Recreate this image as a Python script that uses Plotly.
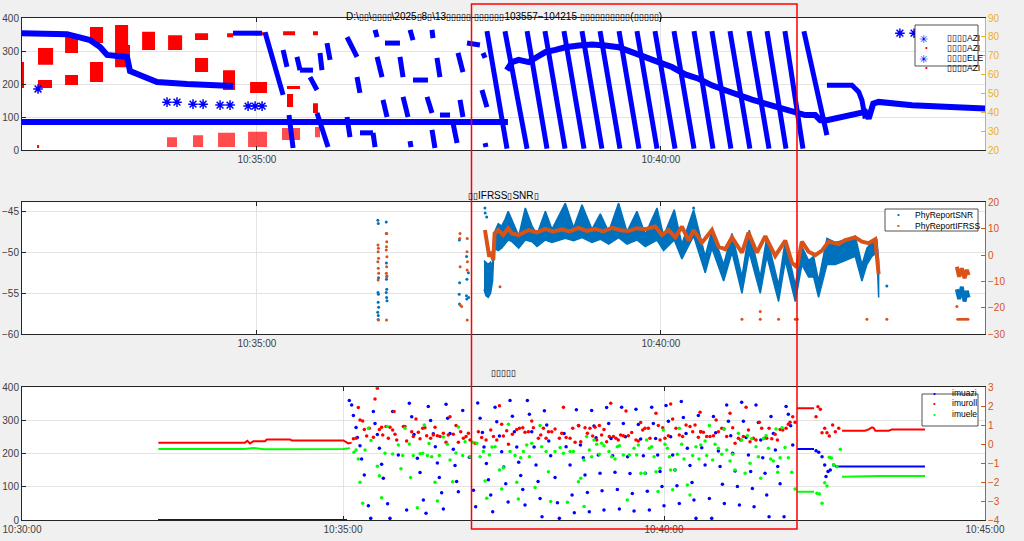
import pandas as pd
import plotly.graph_objects as go

T0 = pd.Timestamp("2025-08-13 10:30:00")

# ---------------- top panel (seconds after 10:30:00) ----------------
azi_band_t = [125.5, 486.4]
azi_band_v = [85, 85]

azi_path_t = [125.5, 159.0, 176.0, 183.5, 188.7, 203.5, 205.7, 215.4, 225.8, 248.0, 263.0, 282.2]
azi_path_v = [354, 351, 333, 312, 288, 282, 239, 221, 206, 200, 197, 194]

seg_t0 = [282.2, 306.0, 323.8, 319.4, 329.7, 332.0, 339.4, 344.6, 346.8, 352.0,
          366.9, 366.9, 374.3, 376.5, 386.2, 387.7, 389.2, 393.6, 395.1, 406.2,
          408.5, 413.7, 413.7, 415.9, 426.3, 430.0, 430.0, 433.7, 435.9, 445.6,
          449.3, 450.8, 456.0, 467.1, 467.9, 469.4,
          470.8, 484.2, 500.6, 513.9, 528.0, 541.4, 554.8, 568.9, 582.2, 595.6,
          609.7, 624.6, 637.9, 651.3, 665.4, 678.8, 692.1, 706.2]
seg_v0 = [354, 357, 106, 303, 282, 242, 221, 112, 294, 324,
          342, 100, 221, 52, 52, 364, 282, 152, 324, 282,
          161, 364, 27, 212, 161, 364, 61, 279, 106, 82,
          294, 152, 324, 182, 294, 21,
          360, 360, 360, 360, 360, 360, 360, 360, 360, 360,
          360, 360, 360, 360, 360, 360, 360, 360]
seg_t1 = [303.8, 319.4, 326.8, 322.3, 332.0, 341.6, 344.6, 352.8, 348.3, 354.3,
          374.3, 369.1, 376.5, 386.2, 387.7, 389.2, 392.9, 396.6, 406.2, 408.5,
          412.2, 415.9, 414.4, 427.0, 430.0, 430.7, 432.2, 435.9, 443.4, 448.6,
          453.0, 453.0, 465.6, 470.8, 469.4, 470.1,
          485.7, 500.6, 515.4, 528.8, 542.9, 556.2, 569.6, 583.7, 597.1, 610.5,
          624.6, 638.7, 652.0, 666.1, 680.3, 692.9, 705.5, 723.3]
seg_v1 = [354, 167, 6, 252, 242, 242, 182, 9, 242, 273,
          282, 39, 173, 52, 9, 342, 221, 100, 324, 221,
          100, 333, 9, 212, 112, 339, 6, 221, 106, 21,
          236, 100, 318, 130, 279, 9,
          4, 4, 4, 4, 4, 4, 4, 4, 4, 4,
          4, 4, 4, 4, 4, 4, 4, 45]

azi_pts_t = [137.4, 233.2, 240.6, 252.5, 260.0, 272.6, 280.0, 293.4, 298.6, 303.8, 777.5, 788.0]
azi_pts_v = [185, 145, 145, 139, 139, 136, 136, 133, 133, 133, 354, 354]

red_t0 = [125.5, 137.4, 137.4, 157.5, 157.5, 176.0, 176.0, 194.6, 194.6, 214.7,
          234.0, 254.0, 254.0, 274.8, 277.8, 294.9, 297.1, 319.4, 322.3, 322.3,
          341.6, 341.6, 136.7]
red_t1 = [127.0, 147.8, 148.6, 167.1, 167.1, 185.7, 185.7, 204.3, 205.7, 224.3,
          244.4, 263.7, 263.7, 283.7, 282.2, 307.5, 306.0, 328.3, 332.0, 326.8,
          345.3, 345.3, 138.2]
red_hi = [267, 212, 309, 348, 227, 373, 267, 379, 318, 358,
          348, 354, 279, 242, 354, 206, 357, 360, 194, 170,
          360, 142, 15]
red_lo = [188, 188, 258, 294, 197, 324, 206, 318, 251, 303,
          303, 333, 236, 182, 342, 173, 348, 348, 185, 130,
          348, 112, 6]

red_sp_t0 = [233.2, 252.5, 271.1, 293.4, 318.6, 343.1]
red_sp_t1 = [240.6, 260.0, 283.7, 307.5, 332.0, 346.8]
red_sp_hi = [39, 45, 52, 55, 67, 70]
red_sp_lo = [9, 9, 9, 9, 30, 39]

ele_curve_t = [485.5, 489.4, 494.4, 501.8, 508.0, 514.2, 521.6, 529.0, 539.0, 548.8,
               558.7, 568.6, 578.5, 588.4, 598.3, 608.2, 618.1, 628.0, 637.9, 647.8,
               657.8, 667.6, 677.5, 687.5, 697.3, 702.3, 707.2, 714.6, 718.4, 723.3,
               737.0, 746.9, 751.8, 754.3, 757.7, 761.7, 774.0, 786.5, 811.2, 831.0, 840.9]
ele_curve_v = [62.4, 66.6, 67.8, 66.6, 69.3, 71.9, 73.1, 74.5, 75.4, 75.9,
               75.4, 74.5, 71.9, 68.9, 66.6, 64.0, 60.1, 57.8, 54.3, 51.7,
               49.0, 46.7, 44.6, 42.5, 40.2, 39.3, 38.5, 38.5, 35.8, 35.8,
               37.6, 39.3, 40.2, 36.7, 44.6, 45.5, 44.3, 43.7, 42.9, 42.5, 42.0]
ele_step_t = [723.3, 741.9, 746.9, 749.3, 751.8]
ele_step_v = [54.3, 54.3, 50.8, 46.4, 36.7]

# ---------------- middle panel ----------------
snr_t = [468.6, 470.1, 471.8, 473.5, 475.0, 476.0, 479.2, 481.7, 484.2, 486.6,
         489.4, 494.4, 499.3, 504.3, 508.0, 514.2, 519.1, 529.0, 535.2, 541.4,
         548.8, 555.0, 561.2, 568.6, 574.8, 582.2, 588.4, 597.1, 602.0, 609.9,
         615.6, 624.3, 632.9, 637.9, 646.6, 652.8, 660.2, 665.6, 673.8, 678.7,
         687.4, 692.4, 699.8, 704.7, 709.7, 713.4, 717.1, 723.3, 729.5, 736.9,
         744.3, 749.3, 753.0, 756.7, 760.4, 761.7]
snr_hi = [-51.0, -51.3, -51.5, -51.2, -51.7, -47.7, -46.5, -46.8, -46.0, -45.0,
          -46.0, -48.0, -44.6, -46.8, -47.8, -45.0, -47.2, -44.0, -47.0, -44.2,
          -47.2, -45.3, -47.5, -44.0, -47.5, -45.0, -47.8, -44.6, -48.0, -44.8,
          -49.0, -44.8, -50.5, -47.3, -51.5, -47.7, -53.0, -47.3, -53.0, -48.1,
          -54.0, -48.5, -54.0, -49.3, -51.0, -50.5, -53.5, -48.3, -48.8, -48.5,
          -48.0, -51.5, -49.5, -48.8, -48.5, -51.0]
snr_lo = [-54.5, -55.3, -55.5, -55.0, -53.5, -49.5, -49.8, -49.5, -49.0, -48.5,
          -48.7, -49.5, -48.5, -48.7, -49.3, -48.5, -48.8, -48.3, -48.6, -48.2,
          -48.8, -48.4, -49.0, -48.2, -49.0, -48.5, -49.3, -48.5, -49.8, -48.5,
          -50.8, -48.0, -52.5, -49.5, -53.5, -50.0, -55.0, -50.0, -55.0, -50.5,
          -56.0, -51.0, -56.0, -51.5, -53.0, -53.0, -55.5, -51.5, -51.5, -51.0,
          -50.5, -53.5, -51.5, -50.5, -50.0, -55.5]
snr_end_t = [819.8, 821.5, 823.5, 825.5, 827.2, 828.5]
snr_end_v = [-54.5, -55.7, -54.2, -56.0, -54.7, -55.5]
snr_pts_t = [389.8, 390.1, 390.3, 389.9, 390.2, 390.0, 390.4, 389.7, 390.1, 390.0,
             396.0, 396.3, 396.1, 396.5, 396.2, 396.4, 396.0, 396.3, 396.6,
             450.3, 450.5, 450.2, 450.4, 455.7, 455.9, 455.6, 455.8, 457.0, 457.2,
             469.3, 469.5, 470.6, 624.3, 767.8]
snr_pts_v = [-46.1, -46.5, -53.1, -54.9, -55.1, -56.1, -56.7, -57.3, -57.7, -58.2,
             -46.3, -47.7, -51.3, -52.9, -53.3, -54.5, -54.9, -55.5, -55.9,
             -48.5, -53.7, -55.1, -56.3, -50.5, -53.3, -55.3, -55.7, -52.5, -55.5,
             -44.6, -45.2, -45.7, -44.6, -54.1]

ifr_t = [469.3, 470.1, 471.1, 472.5, 474.0, 475.5, 476.5, 479.2, 482.9, 486.6,
         489.4, 494.4, 501.8, 508.0, 514.2, 520.0, 526.5, 532.0, 538.9, 545.0,
         551.3, 557.0, 563.7, 570.0, 576.0, 582.0, 588.4, 595.8, 600.8, 605.7,
         610.7, 615.6, 620.6, 624.3, 630.5, 635.4, 637.9, 642.9, 647.8, 652.8,
         660.2, 665.1, 671.3, 677.5, 684.9, 692.4, 697.3, 701.0, 704.7, 709.7,
         714.6, 719.6, 724.5, 731.9, 736.9, 744.3, 749.3, 754.2, 759.2, 761.7,
         None, 819.8, 821.5, 823.5, 825.5, 827.2, 828.5]
ifr_v = [9.5, 6.3, 2.6, -0.6, 1.3, -1.9, 8.2, 9.5, 7.6, 10.1,
         8.2, 7.6, 9.5, 8.6, 9.9, 8.9, 9.8, 9.0, 10.3, 9.2,
         9.9, 9.0, 10.3, 9.4, 9.1, 10.2, 9.8, 10.8, 7.6, 9.5,
         6.7, 10.8, 5.5, 9.5, 4.7, 7.6, 9.5, 3.2, 2.2, 6.7,
         0.9, 8.5, 0.9, 7.2, -0.3, 5.5, -2.9, -4.6, 5.1, 1.3,
         0.0, 1.7, 5.1, 4.2, 5.7, 6.7, 5.1, 4.5, 6.0, -7.2,
         None, -4.4, -8.2, -5.0, -8.8, -5.6, -7.6]
ifr_pts_t = [389.9, 390.2, 390.0, 390.3, 389.8, 390.1, 390.4, 390.0, 390.2,
             396.1, 396.4, 396.2, 396.0, 396.5, 396.3, 396.1, 396.4, 396.2,
             450.8, 450.6, 450.9, 451.0, 452.0, 456.2, 456.0, 456.3, 456.1, 456.2,
             480.5, 660.2, 673.8, 673.8, 687.4, 699.8, 701.3, 753.0, 767.8, 819.8,
             820.5, 822.0, 823.5, 825.0, 826.5, 828.0]
ifr_pts_v = [3.8, 2.6, 1.3, -1.2, -2.5, -5.0, -6.9, -9.4, -24.6,
             8.2, 5.1, 3.2, 1.9, -0.6, -4.4, -6.9, -8.2, -24.6,
             8.2, 6.3, -4.4, -18.9, -19.5, 6.3, 1.3, -2.5, -5.6, -24.6,
             -12.0, -24.3, -24.3, -21.4, -24.3, -24.3, -24.3, -24.3, -24.3, -19.5,
             -24.3, -24.3, -24.3, -24.3, -24.3, -24.3]

# ---------------- bottom panel ----------------
imuazi_flat_t = [127.1, 303.7, None, 724.3, 740.2, None, 759.8, 843.9]
imuazi_flat_v = [0, 0, None, 214, 214, None, 161, 161]
imuazi_t = [305.9, 308.1, 309.7, 312.2, 313.4, 315.9, 317.4, 319.9, 323.7, 325.9,
            328.4, 329.9, 332.1, 334.0, 336.1, 337.7, 341.7, 343.9, 346.4, 351.7,
            359.5, 362.0, 364.2, 366.4, 369.5, 372.0, 375.1, 377.6, 379.7, 381.9,
            384.4, 386.3, 388.2, 390.0, 392.2, 393.8, 396.3, 397.8, 400.0, 403.1,
            404.7, 406.2, 407.8,
            411.9, 418.1, 421.9, 424.0, 425.9, 428.1, 430.3, 431.8, 434.0, 435.9,
            438.1, 439.9, 442.1, 443.7, 446.2, 448.3, 450.2, 452.1, 454.3, 456.1,
            458.3, 460.2, 462.4, 464.2, 466.1, 468.0, 470.1, 472.3, 474.2, 476.4,
            478.6, 480.4, 482.3, 484.2, 486.0, 488.2, 490.4, 492.3, 494.1, 498.2,
            500.4, 502.2, 506.6, 508.5, 512.2, 514.1, 516.2, 518.1, 520.3, 521.9,
            524.6, 526.2, 528.4, 530.2, 532.4, 534.6, 536.5, 538.6, 540.2, 542.1,
            543.9, 546.4, 548.3, 550.5, 552.0, 554.2, 556.4, 558.3, 560.4, 562.0,
            563.9, 566.0, 568.2, 570.4, 572.0, 573.8, 576.0, 578.2, 580.7, 582.6,
            584.4, 586.3, 588.5, 590.0, 592.2, 594.1, 596.3, 598.1, 600.0, 601.9,
            604.1, 606.2, 608.1, 610.3, 612.1, 614.3, 616.2, 618.1, 620.6, 621.8,
            624.3, 626.2, 628.0, 629.9, 632.1, 634.3,
            635.3, 638.4, 642.4, 644.6, 646.2, 648.3, 650.8, 652.4, 654.6, 656.4,
            658.6, 660.2, 662.4, 664.2, 666.4, 668.6, 670.5, 672.6, 674.2, 676.7,
            678.9, 681.0, 682.6, 684.2, 686.0, 688.2, 690.4, 692.3, 694.4, 696.0,
            698.2, 700.0, 702.2, 704.1, 706.3, 708.5, 712.2, 714.1, 716.2, 718.4,
            720.3,
            742.1, 744.6, 747.7, 750.2, 751.4, 753.3, 755.4, 758.6]
imuazi_v = [360, 347, 315, 279, 249, 224, 184, 136, 43, 5,
            327, 291, 258, 216, 168, 126, 49, 5, 327, 196,
            30, 352, 311, 258, 186, 143, 60, 20, 342, 300,
            260, 221, 172, 128, 82, 33, 349, 307, 261, 213,
            164, 116, 85,
            330, 189, 90, 40, 353, 307, 264, 220, 170, 121,
            75, 25, 340, 296, 253, 206, 160, 109, 54, 360,
            313, 266, 220, 174, 134, 92, 45, 360, 319, 266,
            220, 166, 116, 65, 10, 329, 286, 238, 194, 128,
            52, 5, 261, 221, 166, 75, 22, 332, 284, 226,
            188, 136, 83, 25, 330, 283, 248, 196, 141, 88,
            30, 339, 291, 246, 194, 144, 92, 33, 340, 291,
            251, 191, 140, 80, 27, 334, 288, 244, 194, 141,
            87, 30, 340, 291, 246, 196, 146, 101, 43, 345,
            298, 251, 196, 151, 103, 50, 357, 309, 261, 216,
            164, 113, 60, 5, 315, 266,
            218, 166, 65, 5, 312, 263, 208, 161, 108, 50,
            347, 298, 254, 201, 148, 101, 45, 355, 298, 249,
            196, 146, 95, 40, 347, 294, 241, 188, 141, 75,
            10, 312, 261, 211, 161, 109, 10, 342, 319, 284,
            226,
            209, 204, 191, 166, 131, 146, 151, 166]

imuroll_flat_t = [127.4, 208.4, 210.6, 213.1, 216.2, 227.1, 228.7, 250.5, 252.0, 300.3,
                  305.0, 308.1, None, 724.3, 740.2, None, 766.4, 787.9, 791.3, 794.4,
                  796.0, 797.5, 810.0, 813.1, 843.9]
imuroll_flat_v = [0.08, 0.08, 0.18, 0.04, 0.16, 0.16, 0.25, 0.25, 0.2, 0.2,
                  0.04, 0.08, None, 1.89, 1.89, None, 0.71, 0.71, 0.78, 0.89,
                  0.85, 0.71, 0.71, 0.78, 0.78]
imuroll_t = [309.7, 312.2, 314.3, 315.9, 318.4, 319.9, 322.1, 324.6, 328.4, 329.9,
             332.1, 334.0, 336.1, 337.1, 340.2, 342.4, 343.9, 346.4, 347.7, 348.6,
             350.2, 356.4, 357.9, 359.5, 364.2, 365.7, 368.2, 370.4, 372.0, 374.5,
             376.6, 378.2, 381.9, 384.4, 386.0, 388.2, 390.7, 393.8, 396.3, 398.4,
             400.0, 403.1, 405.6, 407.8, 410.0,
             412.5, 415.0, 417.2, 418.7, 423.4, 426.5, 429.6, 433.7, 438.1, 440.6,
             443.7, 446.2, 448.3, 449.9, 453.0, 454.6, 458.3, 462.4, 464.9, 468.0,
             470.1, 473.3, 476.4, 477.9, 482.6, 484.8, 487.3, 489.8, 492.0, 495.1,
             498.2, 502.2, 504.4, 506.0, 508.5, 512.2, 514.7, 516.9, 520.0, 522.2,
             526.2, 528.4, 530.8, 533.3, 535.5, 537.1, 539.6, 541.7, 543.9, 546.4,
             548.9, 550.2, 552.7, 555.1, 557.3, 559.5, 562.0, 564.5, 566.7, 569.8,
             573.8, 576.0, 578.2, 580.1, 582.2, 585.4, 586.9, 592.5, 594.7, 596.3,
             598.8, 600.9, 604.1, 606.2, 608.1, 611.2, 614.3, 617.4, 620.6, 624.3,
             626.8, 629.0, 632.1, 633.7, 634.3,
             636.8, 639.9, 643.0, 646.2, 648.7, 650.8, 654.0, 656.1, 658.6, 661.7,
             664.2, 666.4, 669.5, 671.7, 674.2, 676.7, 678.9, 680.4, 683.5, 686.0,
             689.1, 691.3, 693.5, 696.0, 698.2, 700.7, 703.8, 706.0, 708.5, 711.0,
             714.1, 716.2, 717.8, 720.3, 722.5,
             742.1, 743.9, 746.1, 747.7, 750.2, 752.3, 754.5, 757.6, 760.1, 763.3]
imuroll_v = [0.28, 0.31, 1.93, 1.28, 1.22, 0.78, 0.43, 0.84, 0.36, 2.38,
             2.95, 0.78, 0.89, 0.49, 0.93, 0.31, 0.89, 0.75, 1.72, 0.52,
             0.22, 0.93, 0.93, 0.17, 0.66, 0.4, 1.33, 0.63, 0.28, 0.84,
             0.87, 0.45, 0.31, 0.49, 0.89, 0.45, 0.4, 0.57, 0.1, 0.49,
             1.45, 0.52, 0.98, 0.1, 0.66,
             0.31, 0.4, 0.57, 0.22, 0.05, 0.66, 0.35, 0.22, 0.75, 0.4,
             0.22, 2.03, 1.05, 0.43, 0.71, 0.0, 0.52, 0.78, 0.84, 0.87,
             0.63, 0.66, 1.22, 0.87, 0.31, 0.49, 0.84, 0.31, 0.66, 0.66,
             0.8, 0.31, 0.57, 1.95, 0.35, 0.31, 0.84, 0.1, 0.98, 0.13,
             0.87, 0.57, 0.84, 0.43, 0.89, 0.22, 0.98, 0.49, 0.78, 0.13,
             0.4, 2.16, 0.4, 0.31, 0.22, 0.49, 0.45, 1.75, 0.45, 0.61,
             0.22, 0.17, 1.14, 0.75, 0.84, 0.84, 0.31, 1.63, 0.98, 0.22,
             0.87, 0.31, 0.45, 2.12, 1.33, 0.84, 0.49, 0.4, 1.01, 0.93,
             0.66, 1.01, 0.36, 1.68, 0.66,
             0.63, 0.4, 0.4, 0.45, 1.28, 0.66, 0.84, 0.8, 0.4, 1.63,
             0.87, 0.05, 0.31, 0.22, 0.4, 1.95, 0.75, 0.13, 0.31, 0.22,
             1.15, 0.84, 0.31, 0.31, 0.84, 0.28, 0.52, 0.22, 0.78, 0.75,
             0.84, 1.05, 1.15, 1.45, 1.15,
             1.45, 1.98, 1.84, 0.6, 0.84, 0.6, 0.43, 1.01, 0.66, 0.84]

imuele_flat_t = [127.4, 208.0, 216.0, 226.0, 300.0, 306.5, None, 724.3, 740.2, None, 766.4, 801.9, 843.9]
imuele_flat_v = [-0.25, -0.25, -0.2, -0.27, -0.25, -0.22, None, -2.51, -2.51, None, -1.72, -1.68, -1.68]
imuele_t = [310.3, 312.2, 314.3, 315.9, 318.4, 320.6, 323.7, 326.2, 332.1, 334.0,
            336.1, 339.3, 341.4, 346.4, 351.7, 354.2, 355.8, 357.9, 362.0, 363.2,
            365.7, 369.5, 372.0, 374.5, 376.0, 378.8, 380.4, 382.9, 386.0, 388.2,
            390.0, 393.8, 397.5, 400.0, 402.5, 405.6, 407.8, 411.8,
            414.1, 418.7, 421.2, 425.0, 428.1, 431.2, 432.8, 434.3, 436.8, 439.3,
            442.1, 446.2, 448.3, 449.9, 454.6, 456.1, 460.8, 462.4, 463.9, 466.1,
            468.6, 471.7, 474.2, 476.4, 479.5, 484.2, 485.7, 489.8, 492.0, 494.1,
            498.2, 502.9, 506.0, 509.7, 512.2, 515.3, 520.0, 522.2, 525.3,
            525.2, 527.7, 530.2, 532.4, 534.6, 537.1, 539.6, 541.7, 543.9, 548.6,
            551.1, 554.2, 556.4, 558.3, 562.0, 565.7, 567.6, 572.0, 574.5, 576.0,
            578.5, 582.2, 583.8, 586.3, 588.5, 590.7, 592.5, 594.4, 596.3, 599.4,
            600.9, 603.1, 605.0, 606.2, 608.1, 610.3, 612.5, 614.3, 616.5, 618.7,
            621.8, 624.3, 626.8, 629.9, 632.7, 634.3,
            638.4, 639.9, 642.4, 645.5, 647.7, 650.8, 654.0, 656.1, 658.6, 661.7,
            664.2, 666.4, 669.5, 672.6, 675.8, 677.9, 680.4, 682.0, 686.0, 688.2,
            690.4, 692.9, 695.4, 697.6, 699.7, 702.2, 704.7, 706.3, 708.5, 710.3,
            713.1, 716.2, 719.4, 722.5,
            743.0, 745.2, 747.7, 750.2, 752.3, 754.5, 756.4, 758.6, 761.7, 764.8]
imuele_v = [-0.43, -0.31, -0.78, -2.01, -3.12, -0.31, 0.84, 0.19, -1.17, -1.66,
            -2.82, -0.48, 0.93, -0.52, -0.04, -1.29, -0.6, 0.84, 0.01, -1.76,
            -0.6, -3.35, -0.5, -0.48, 1.01, -0.6, 0.03, -0.66, -2.01, -3.0,
            -0.6, 0.38, -0.01, -0.83, -1.98, -0.46, 0.91, -0.6,
            0.13, -0.66, 0.1, 0.05, -0.66, -0.39, -1.94, -2.85, -0.57, -0.15,
            -0.13, -1.36, -2.36, -1.24, 1.05, -0.39, -0.6, -2.01, -2.89, -0.71,
            -0.39, -0.04, -0.66, 0.05, -2.29, 0.98, -0.13, -0.39, -1.45, -3.03,
            -0.39, -0.18, -0.48, -3.07, -0.39, -0.39, -1.98, -1.8, -3.29,
            -0.83, 0.4, -0.31, -0.66, 0.22, -0.01, -0.53, 0.05, -0.08, -0.39,
            -0.66, -0.78, -0.13, -0.08, -0.57, -2.94, -0.57, -0.22, -0.57, -0.04,
            -1.54, -1.54, 0.22, -0.22, -0.13, -0.66, -1.45, -2.5, -1.27, 0.75,
            -0.01, -0.22, -0.66, -1.36, -2.41, -1.36, -0.53, 0.84, -0.01, -0.78,
            -2.15, -2.68, -0.6, -0.13, -0.78, -0.04,
            0.17, -0.6, 0.98, -0.83, -0.01, -0.22, -0.53, 0.8, -0.31, -0.89,
            -0.53, -1.36, 0.57, 0.22, -1.54, 0.45, -1.01, 0.28, -0.13, -0.66,
            -1.8, 0.28, 0.45, -0.22, -0.78, -0.89, 0.8, -1.48, -0.71, 0.87,
            -0.18, -0.71, -1.48, -2.36,
            -2.59, -2.63, -3.12, -2.03, -2.21, -0.69, -0.73, -1.1, -1.19, -0.27]

title_top = r"D:\▯▯\▯▯▯▯\2025▯8▯\13▯▯▯▯▯-▯▯▯▯▯▯103557−104215-▯▯▯▯▯▯▯▯▯▯(▯▯▯▯▯)"
title_mid = "▯▯IFRSS▯SNR▯"
title_bot = "▯▯▯▯▯"
legend_top = ["▯▯▯▯AZI", "▯▯▯▯AZI", "▯▯▯▯ELE", "▯▯▯▯AZI"]
legend_mid = ["PhyReportSNR", "PhyReportIFRSS"]
legend_bot = ["imuazi", "imuroll", "imuele"]


def ts(secs):
    return [None if s is None else (T0 + pd.Timedelta(seconds=s)).to_pydatetime() for s in secs]


def segs(t0, v0, t1, v1):
    xs, ys = [], []
    for a, b, c, d in zip(t0, v0, t1, v1):
        xs += [a, c, None]
        ys += [b, d, None]
    return ts(xs), ys


def boxes(t0, t1, hi, lo):
    xs, ys = [], []
    for a, b, h, l in zip(t0, t1, hi, lo):
        xs += [a, b, b, a, a, None]
        ys += [h, h, l, l, h, None]
    return ts(xs), ys


def tofu(s):
    return s.replace("▯", '<span style="font-size:9px">▯</span>')


BLUE, RED, GREEN = "#0000FF", "#FF0000", "#00FF00"
C1, C2 = "#0072BD", "#D95319"
GOLD = "#EDB120"
AX = "#262626"
GRID = "#e3e3e3"
FONT = "Liberation Sans, Arial, sans-serif"

fig = go.Figure()

# top panel
bx, by = boxes(red_t0, red_t1, red_hi, red_lo)
fig.add_trace(go.Scatter(x=bx, y=by, mode="lines", fill="toself", fillcolor=RED,
                         line=dict(width=0, color=RED), xaxis="x", yaxis="y"))
bx, by = boxes(red_sp_t0, red_sp_t1, red_sp_hi, red_sp_lo)
fig.add_trace(go.Scatter(x=bx, y=by, mode="lines", fill="toself", fillcolor="rgba(255,0,0,0.7)",
                         line=dict(width=0, color=RED), xaxis="x", yaxis="y"))
fig.add_trace(go.Scatter(x=ts(azi_band_t), y=azi_band_v, mode="lines",
                         line=dict(color=BLUE, width=6), xaxis="x", yaxis="y"))
fig.add_trace(go.Scatter(x=ts(azi_path_t), y=azi_path_v, mode="lines",
                         line=dict(color=BLUE, width=6), xaxis="x", yaxis="y"))
sx, sy = segs(seg_t0, seg_v0, seg_t1, seg_v1)
fig.add_trace(go.Scatter(x=sx, y=sy, mode="lines", line=dict(color=BLUE, width=5),
                         xaxis="x", yaxis="y"))
fig.add_trace(go.Scatter(x=ts(azi_pts_t), y=azi_pts_v, mode="markers",
                         marker=dict(symbol="asterisk-open", size=8, color=BLUE,
                                     line=dict(color=BLUE, width=1.5)),
                         xaxis="x", yaxis="y"))
fig.add_trace(go.Scatter(x=ts(ele_curve_t), y=ele_curve_v, mode="lines",
                         line=dict(color=BLUE, width=6), xaxis="x", yaxis="y2"))
fig.add_trace(go.Scatter(x=ts(ele_step_t), y=ele_step_v, mode="lines",
                         line=dict(color=BLUE, width=5), xaxis="x", yaxis="y2"))

# middle panel
fig.add_trace(go.Scatter(x=ts(snr_t + snr_t[::-1]), y=snr_hi + snr_lo[::-1], mode="lines",
                         fill="toself", fillcolor=C1, line=dict(color=C1, width=1.5),
                         xaxis="x2", yaxis="y3"))
fig.add_trace(go.Scatter(x=ts(snr_end_t), y=snr_end_v, mode="lines", line=dict(color=C1, width=4),
                         xaxis="x2", yaxis="y3"))
fig.add_trace(go.Scatter(x=ts(snr_pts_t), y=snr_pts_v, mode="markers", marker=dict(color=C1, size=3),
                         xaxis="x2", yaxis="y3"))
fig.add_trace(go.Scatter(x=ts(ifr_t), y=ifr_v, mode="lines", line=dict(color=C2, width=4),
                         xaxis="x2", yaxis="y4"))
fig.add_trace(go.Scatter(x=ts(ifr_pts_t), y=ifr_pts_v, mode="markers", marker=dict(color=C2, size=3),
                         xaxis="x2", yaxis="y4"))

# bottom panel
fig.add_trace(go.Scatter(x=ts(imuazi_flat_t), y=imuazi_flat_v, mode="lines",
                         line=dict(color=BLUE, width=2), xaxis="x3", yaxis="y5"))
fig.add_trace(go.Scatter(x=ts(imuazi_t), y=imuazi_v, mode="markers",
                         marker=dict(color=BLUE, size=3.5), xaxis="x3", yaxis="y5"))
fig.add_trace(go.Scatter(x=ts(imuroll_flat_t), y=imuroll_flat_v, mode="lines",
                         line=dict(color=RED, width=2), xaxis="x3", yaxis="y6"))
fig.add_trace(go.Scatter(x=ts(imuroll_t), y=imuroll_v, mode="markers",
                         marker=dict(color=RED, size=3.5), xaxis="x3", yaxis="y6"))
fig.add_trace(go.Scatter(x=ts(imuele_flat_t), y=imuele_flat_v, mode="lines",
                         line=dict(color=GREEN, width=2), xaxis="x3", yaxis="y6"))
fig.add_trace(go.Scatter(x=ts(imuele_t), y=imuele_v, mode="markers",
                         marker=dict(color=GREEN, size=3.5), xaxis="x3", yaxis="y6"))

fig.update_traces(hoverinfo="skip", showlegend=False)

W, H = 1024, 541
XD = [22 / W, 985 / W]


def ydom(top, bot):
    return [1 - bot / H, 1 - top / H]


def xax(anchor, rng):
    return dict(domain=XD, anchor=anchor, type="date", range=rng, automargin=False,
                tickformat="%H:%M:%S", tick0=T0.to_pydatetime(), dtick=300000,
                ticks="inside", ticklen=4, tickcolor=AX, showline=True, linecolor=AX,
                linewidth=1, mirror="ticks", showgrid=True, gridcolor=GRID,
                zeroline=False, tickfont=dict(size=10, color="#404040"))


def yleft(anchor, dom, rng, dtick):
    return dict(domain=dom, anchor=anchor, range=rng, dtick=dtick, ticks="inside",
                automargin=False, ticklen=4, tickcolor=AX, showline=True, linecolor=AX,
                linewidth=1, showgrid=True, gridcolor=GRID, zeroline=False,
                tickfont=dict(size=10, color="#404040"))


def yright(anchor, over, rng, dtick, color):
    return dict(anchor=anchor, overlaying=over, side="right", range=rng, dtick=dtick,
                automargin=False, ticks="inside", ticklen=4, tickcolor=color,
                showline=True, linecolor=color, linewidth=1, showgrid=False,
                zeroline=False, tickfont=dict(size=10, color=color))


range_top = ts([125.5, 840.7])
range_bot = ts([0, 900])

annotations = [
    dict(text=tofu(title_top), x=503.5 / W, y=1 - 9 / H, xref="paper", yref="paper",
         showarrow=False, font=dict(size=10, color="black")),
    dict(text=tofu(title_mid), x=503.5 / W, y=1 - 195 / H, xref="paper", yref="paper",
         showarrow=False, font=dict(size=10, color="black")),
    dict(text=tofu(title_bot), x=503.5 / W, y=1 - 380 / H, xref="paper", yref="paper",
         showarrow=False, font=dict(size=10, color="black")),
]
shapes = []


def add_legend(box, sym_x, text_x, rows, labels, syms):
    x0, x1, y0, y1 = box
    shapes.append(dict(type="rect", xref="paper", yref="paper", x0=x0 / W, x1=x1 / W,
                       y0=1 - y1 / H, y1=1 - y0 / H, fillcolor="white",
                       line=dict(color=AX, width=0.8), layer="above"))
    for yy, lab, (ch, col, fs) in zip(rows, labels, syms):
        annotations.append(dict(text=ch, x=sym_x / W, y=1 - yy / H, xref="paper", yref="paper",
                                showarrow=False, font=dict(size=fs, color=col)))
        annotations.append(dict(text=tofu(lab), x=text_x / W, y=1 - yy / H, xref="paper",
                                yref="paper", xanchor="left", showarrow=False,
                                font=dict(size=8.5, color="black")))


add_legend((915, 978, 25, 66), 930, 945, [31, 41, 51, 61], legend_top,
           [("✳", BLUE, 11), ("•", RED, 8), ("✳", BLUE, 11), ("•", RED, 8)])
add_legend((885, 978, 209, 231), 902, 913, [215, 225.5], legend_mid,
           [("•", C1, 8), ("•", C2, 8)])
add_legend((922, 978, 394, 426), 937.7, 950, [400, 410, 420.5], legend_bot,
           [("•", BLUE, 8), ("•", RED, 8), ("•", GREEN, 8)])

shapes.append(dict(type="rect", xref="paper", yref="paper", x0=471.5 / W, x1=797 / W,
                   y0=1 - 529 / H, y1=1 - 4 / H, line=dict(color=RED, width=1.5), layer="above"))

fig.update_layout(
    width=W, height=H, margin=dict(l=0, r=0, t=0, b=0, autoexpand=False),
    paper_bgcolor="#f0f0f0", plot_bgcolor="white",
    font=dict(family=FONT, size=10, color=AX),
    showlegend=False,
    xaxis=xax("y", range_top),
    yaxis=yleft("x", ydom(18, 150), [0, 400], 100),
    yaxis2=yright("x", "y", [20, 90], 10, GOLD),
    xaxis2=xax("y3", range_top),
    yaxis3=yleft("x2", ydom(202.3, 334.3), [-60, -43.9], 5),
    yaxis4=yright("x2", "y3", [-30, 20], 10, C2),
    xaxis3=xax("y5", range_bot),
    yaxis5=yleft("x3", ydom(387.3, 520), [0, 400], 100),
    yaxis6=yright("x3", "y5", [-4, 3], 1, C2),
    annotations=annotations,
    shapes=shapes,
)

fig.write_html("out.html", config={"displayModeBar": False},
               post_script="document.body.style.margin='0';"
                           "document.body.style.background='#f0f0f0';")
